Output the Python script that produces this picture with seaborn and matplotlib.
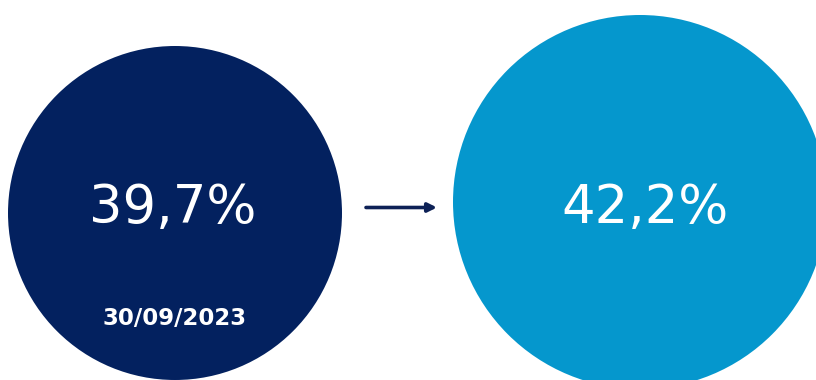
import matplotlib
matplotlib.use("Agg")
import matplotlib.pyplot as plt
import seaborn as sns
import pandas as pd

# ---- data ----
periods = ["30/09/2023", "next"]
values = [39.7, 42.2]
value_labels = ["39,7%", "42,2%"]
date_labels = ["30/09/2023", ""]

# ---- layout / style (pixels in an 816x380 canvas) ----
centers_x = [175, 640]
centers_y = [213, 202]
radii_px = [167, 187]
colors = ["#03215f", "#0597cd"]
DPI = 100

sns.set_theme(style="white")
plt.rcParams["font.family"] = ["DejaVu Sans"]

df = pd.DataFrame({"period": periods, "value": values,
                   "cx": centers_x, "cy": centers_y})

fig = plt.figure(figsize=(8.16, 3.8), dpi=DPI)
ax = fig.add_axes([0, 0, 1, 1])

px_to_pt = 72.0 / DPI
size_map = {p: (2 * r * px_to_pt) ** 2 for p, r in zip(periods, radii_px)}
color_map = {p: c for p, c in zip(periods, colors)}

sns.scatterplot(data=df, x="cx", y="cy", hue="period", size="period",
                palette=color_map, sizes=size_map, marker="o",
                linewidth=0, legend=False, ax=ax, clip_on=False)
ax.set_xlim(0, 816)
ax.set_ylim(380, 0)
ax.axis("off")

for i, lab in enumerate(value_labels):
    ax.text(centers_x[i] + (-2 if i == 0 else 5), 223, lab, color="white",
            fontsize=38, ha="center", va="baseline")
for i, lab in enumerate(date_labels):
    if lab:
        ax.text(centers_x[i], 325, lab, color="white", fontsize=16.5,
                fontweight="bold", ha="center", va="baseline")

ax.annotate("", xy=(437, 207.5), xytext=(366, 207.5),
            arrowprops=dict(arrowstyle="-|>", color="#0d2156", lw=2.6,
                            mutation_scale=13, shrinkA=0, shrinkB=0))

fig.savefig("out.png", dpi=DPI, facecolor="white")
